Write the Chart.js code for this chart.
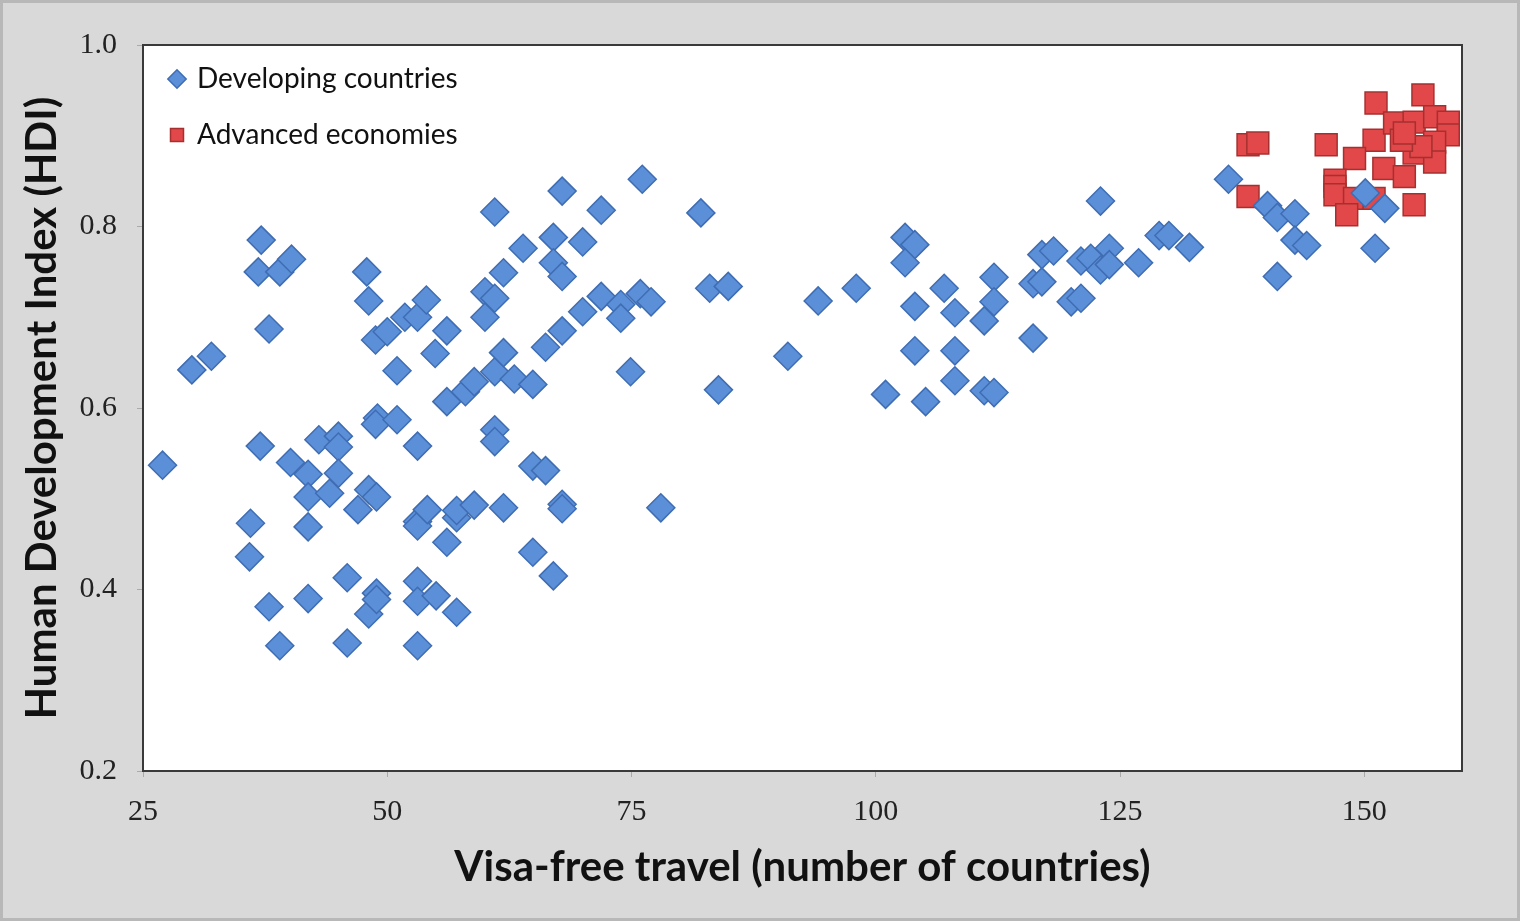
<!DOCTYPE html>
<html lang="en">
<head>
    <meta charset="UTF-8">
    <title>HDI vs Visa-free travel</title>
    <script src="https://cdn.jsdelivr.net/npm/chart.js"></script>
    <style>
        html, body { margin: 0; padding: 0; background: #d9d9d9; }
        #wrap { width: 1520px; height: 921px; }
    </style>
</head>
<body>
    <div id="wrap"><canvas id="scatter"></canvas></div>

    <script>
        // Developing countries (visa-free destinations, HDI)
        const devX = [
            27, 30, 32, 37.1, 36.8, 39, 40.2, 37.9, 37, 36, 35.9, 37.9, 39,
            40.1, 41.9, 41.9, 41.9, 41.9, 43, 44.1, 45, 45, 45, 45.9, 45.9, 47,
            47.9, 48.1, 48.1, 48.9, 48.1, 48.9, 48.9, 48.8, 49, 48.8, 50, 51, 51,
            51.8, 53.1, 54, 53.1, 53.1, 53.1, 53.1, 53.1, 53.1, 54.1, 54.9, 56.1,
            56.1, 56.1, 55, 57.1, 57.1, 57.1, 58, 58.9, 58.9, 60, 60, 61, 61, 61,
            61, 61, 61.9, 61.9, 61.9, 63, 63.9, 64.9, 64.9, 64.9, 66.2, 66.2, 67,
            67, 67, 67.9, 67.9, 67.9, 67.9, 67.9, 70, 70, 71.9, 71.9, 73.9, 73.9,
            74.9, 75.9, 76.1, 77, 78, 82.1, 83, 83.9, 84.9, 91, 94.1, 98, 101,
            103, 104, 103, 104, 104, 105.1, 107, 108.1, 108.1, 108.1, 111.1, 111.1,
            112.1, 112.1, 112.1, 116.1, 116.1, 117, 117, 118.2, 120, 121, 121, 122,
            123, 123, 123.9, 123.9, 126.9, 129, 130, 132.1, 136.1, 140.1, 141.1,
            141.1, 142.9, 142.9, 144.1, 150.1, 152.1, 151.1
        ];
        const devY = [
            0.537, 0.642, 0.657, 0.785, 0.750, 0.750, 0.764, 0.687, 0.558, 0.473, 0.436, 0.381, 0.338,
            0.540, 0.527, 0.502, 0.469, 0.390, 0.565, 0.506, 0.569, 0.557, 0.528, 0.413, 0.341, 0.488,
            0.750, 0.718, 0.510, 0.502, 0.373, 0.396, 0.389, 0.675, 0.589, 0.582, 0.684, 0.587, 0.641,
            0.700, 0.700, 0.719, 0.558, 0.475, 0.470, 0.409, 0.387, 0.338, 0.488, 0.660, 0.685,
            0.607, 0.452, 0.393, 0.375, 0.479, 0.487, 0.618, 0.493, 0.629, 0.728, 0.700, 0.816, 0.721, 0.640,
            0.576, 0.563, 0.749, 0.661, 0.490, 0.632, 0.776, 0.626, 0.536, 0.441, 0.667, 0.531, 0.788,
            0.760, 0.415, 0.839, 0.745, 0.685, 0.494, 0.489, 0.783, 0.706, 0.818, 0.723, 0.714, 0.699,
            0.640, 0.726, 0.852, 0.717, 0.490, 0.815, 0.732, 0.620, 0.734, 0.657, 0.718, 0.732, 0.615,
            0.788, 0.780, 0.760, 0.712, 0.663, 0.607, 0.732, 0.705, 0.663, 0.630, 0.696, 0.619,
            0.744, 0.717, 0.617, 0.737, 0.677, 0.739, 0.769, 0.773, 0.717, 0.721, 0.762, 0.765,
            0.828, 0.752, 0.776, 0.758, 0.760, 0.790, 0.790, 0.777, 0.852, 0.823, 0.810,
            0.745, 0.814, 0.785, 0.779, 0.837, 0.820, 0.776
        ];

        // Advanced economies
        const advX = [
            138.1, 139.1, 138.1, 146.1, 151.2, 156, 151, 153.1, 155.1, 157.2, 158.6, 158.6,
            149, 152, 154.1, 155.1, 157.2, 157.2, 155.8, 153.8, 147, 147, 147, 149, 151,
            148.2, 155.1, 154.1
        ];
        const advY = [
            0.890, 0.892, 0.833, 0.890, 0.936, 0.945, 0.895, 0.914, 0.915, 0.921, 0.915, 0.901,
            0.875, 0.864, 0.855, 0.881, 0.893, 0.871, 0.888, 0.895, 0.851, 0.844, 0.835, 0.831, 0.831,
            0.813, 0.824, 0.903
        ];

        const xTicks = [25, 50, 75, 100, 125, 150];
        const yTicks = [0.2, 0.4, 0.6, 0.8, 1.0];

        function toPoints(xs, ys) {
            return xs.map((x, i) => ({ x: x, y: ys[i] }));
        }

        // grey page + outer frame, and the box round the plot
        const framePlugin = {
            id: "frame",
            beforeDraw(chart) {
                const ctx = chart.ctx;
                ctx.save();
                ctx.fillStyle = "#d9d9d9";
                ctx.fillRect(0, 0, chart.width, chart.height);
                ctx.strokeStyle = "#b8b8b8";
                ctx.lineWidth = 3;
                ctx.strokeRect(1.5, 1.5, chart.width - 3, chart.height - 3);
                const a = chart.chartArea;
                ctx.fillStyle = "#ffffff";
                ctx.fillRect(a.left, a.top, a.right - a.left, a.bottom - a.top);
                ctx.restore();
            },
            afterDatasetsDraw(chart) {
                const ctx = chart.ctx;
                const a = chart.chartArea;
                ctx.save();
                ctx.strokeStyle = "#3a3a3a";
                ctx.lineWidth = 2;
                ctx.strokeRect(a.left, a.top, a.right - a.left, a.bottom - a.top);
                ctx.restore();
            }
        };

        const ctx = document.getElementById("scatter").getContext("2d");
        new Chart(ctx, {
            type: "scatter",
            data: {
                datasets: [{
                    label: "Developing countries",
                    data: toPoints(devX, devY),
                    pointStyle: "rectRot",
                    pointRadius: 14,
                    pointHoverRadius: 14,
                    backgroundColor: "#5b8fd8",
                    borderColor: "#3f6db3",
                    borderWidth: 1.5
                }, {
                    label: "Advanced economies",
                    data: toPoints(advX, advY),
                    pointStyle: "rect",
                    pointRadius: 15.5,
                    pointHoverRadius: 15.5,
                    backgroundColor: "#e2474a",
                    borderColor: "#a5302f",
                    borderWidth: 1.5
                }]
            },
            options: {
                responsive: true,
                maintainAspectRatio: false,
                animation: false,
                layout: { padding: { top: 45, right: 58, left: 0, bottom: 0 } },
                plugins: {
                    tooltip: { enabled: false },
                    legend: {
                        position: "chartArea",
                        align: "start",
                        title: {
                            display: true,
                            text: " ",
                            font: { size: 10 },
                            padding: { top: 0, bottom: 25 }
                        },
                        labels: {
                            usePointStyle: true,
                            boxWidth: 12,
                            boxHeight: 13,
                            padding: 28,
                            color: "#111",
                            font: { size: 28, family: "Lato" }
                        }
                    }
                },
                scales: {
                    x: {
                        type: "linear",
                        min: 25,
                        max: 160,
                        afterBuildTicks(scale) {
                            scale.ticks = xTicks.map(v => ({ value: v }));
                        },
                        afterFit(scale) { scale.height = 150; },
                        grid: { drawOnChartArea: false, tickLength: 6, color: "#aaa" },
                        border: { display: false },
                        ticks: {
                            padding: 17,
                            color: "#222",
                            font: { size: 30, family: "Liberation Serif" }
                        },
                        title: {
                            display: true,
                            text: "Visa-free travel (number of countries)",
                            color: "#111",
                            padding: { top: 0, bottom: 28 },
                            font: { size: 42, weight: "bold", family: "Lato" }
                        }
                    },
                    y: {
                        min: 0.2,
                        max: 1.0,
                        afterBuildTicks(scale) {
                            scale.ticks = yTicks.map(v => ({ value: v }));
                        },
                        afterFit(scale) { scale.width = 143; },
                        grid: { drawOnChartArea: false, tickLength: 6, color: "#aaa" },
                        border: { display: false },
                        ticks: {
                            padding: 20,
                            color: "#222",
                            font: { size: 30, family: "Liberation Serif" },
                            callback: v => v.toFixed(1)
                        },
                        title: {
                            display: true,
                            text: "Human Development Index (HDI)",
                            color: "#111",
                            padding: { top: 17, bottom: 0 },
                            font: { size: 42, weight: "bold", family: "Lato" }
                        }
                    }
                }
            },
            plugins: [framePlugin]
        });
    </script>
</body>
</html>
